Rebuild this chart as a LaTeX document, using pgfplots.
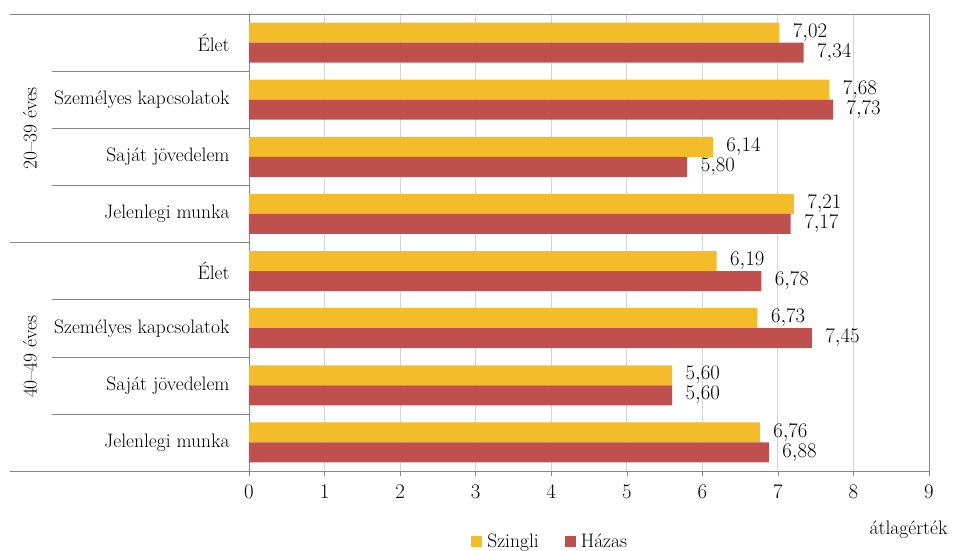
\documentclass[border=0pt]{standalone}
\usepackage{pgfplots}
\pgfplotsset{compat=1.18}
\definecolor{szingli}{RGB}{245,188,42}
\definecolor{hazas}{RGB}{192,80,77}
\definecolor{frame}{RGB}{134,134,134}
\definecolor{gridc}{RGB}{212,212,212}
\begin{document}
\begin{tikzpicture}[font=\fontsize{19.5}{23}\selectfont]
\begin{axis}[
  at={(0,0)}, anchor=south west,
  scale only axis,
  width=680pt, height=457pt,
  xbar, bar width=20pt,
  xmin=0, xmax=9, ymin=0, ymax=8,
  xtick={0,...,9},
  xtick pos=bottom, tick align=outside,
  major tick length=5pt,
  xticklabel style={yshift=-6pt},
  ytick={0.5,1.5,...,7.5},
  yticklabels={Jelenlegi munka,Saját jövedelem,Személyes kapcsolatok,Élet,
               Jelenlegi munka,Saját jövedelem,Személyes kapcsolatok,Élet},
  ytick style={draw=none},
  yticklabel style={anchor=east, xshift=-11pt},
  axis line style={frame},
  xmajorgrids, grid style={gridc, line width=0.8pt},
  every tick/.style={frame},
  clip=false,
  nodes near coords,
  every node near coord/.append style={xshift=10pt,
    /pgf/number format/.cd, fixed, fixed zerofill, precision=2, use comma},
  legend columns=2,
  legend style={draw=none, at={(0.443,0)}, anchor=center, yshift=-70pt,
    /tikz/every even column/.append style={column sep=24pt}},
  legend image code/.code={\fill[#1] (0pt,-5.5pt) rectangle (11pt,5.5pt);
                           \path (0pt,0pt) -- (14pt,0pt);},
]
\addplot[fill=szingli, draw=none, bar shift=10pt] coordinates {
  (6.76,0.5) (5.60,1.5) (6.73,2.5) (6.19,3.5)
  (7.21,4.5) (6.14,5.5) (7.68,6.5) (7.02,7.5)
};
\addplot[fill=hazas, draw=none, bar shift=-10pt] coordinates {
  (6.88,0.5) (5.60,1.5) (7.45,2.5) (6.78,3.5)
  (7.17,4.5) (5.80,5.5) (7.73,6.5) (7.34,7.5)
};
\legend{Szingli,Házas}
% table lines on the left
\draw[frame] (axis cs:0,8) -- ++(-239pt,0);
\draw[frame] (axis cs:0,4) -- ++(-239pt,0);
\draw[frame] (axis cs:0,0) -- ++(-239pt,0);
\draw[frame] (axis cs:0,1) -- ++(-197pt,0);
\draw[frame] (axis cs:0,2) -- ++(-197pt,0);
\draw[frame] (axis cs:0,3) -- ++(-197pt,0);
\draw[frame] (axis cs:0,5) -- ++(-197pt,0);
\draw[frame] (axis cs:0,6) -- ++(-197pt,0);
\draw[frame] (axis cs:0,7) -- ++(-197pt,0);
\node[rotate=90] at ([xshift=-219pt]axis cs:0,6) {20--39 éves};
\node[rotate=90] at ([xshift=-219pt]axis cs:0,2) {40--49 éves};
\node[anchor=east] at ([xshift=22pt,yshift=-59pt]rel axis cs:1,0) {átlagérték};
\end{axis}
\pgfresetboundingbox
\path (-249pt,-79pt) rectangle (705pt,471pt);
\end{tikzpicture}
\end{document}
